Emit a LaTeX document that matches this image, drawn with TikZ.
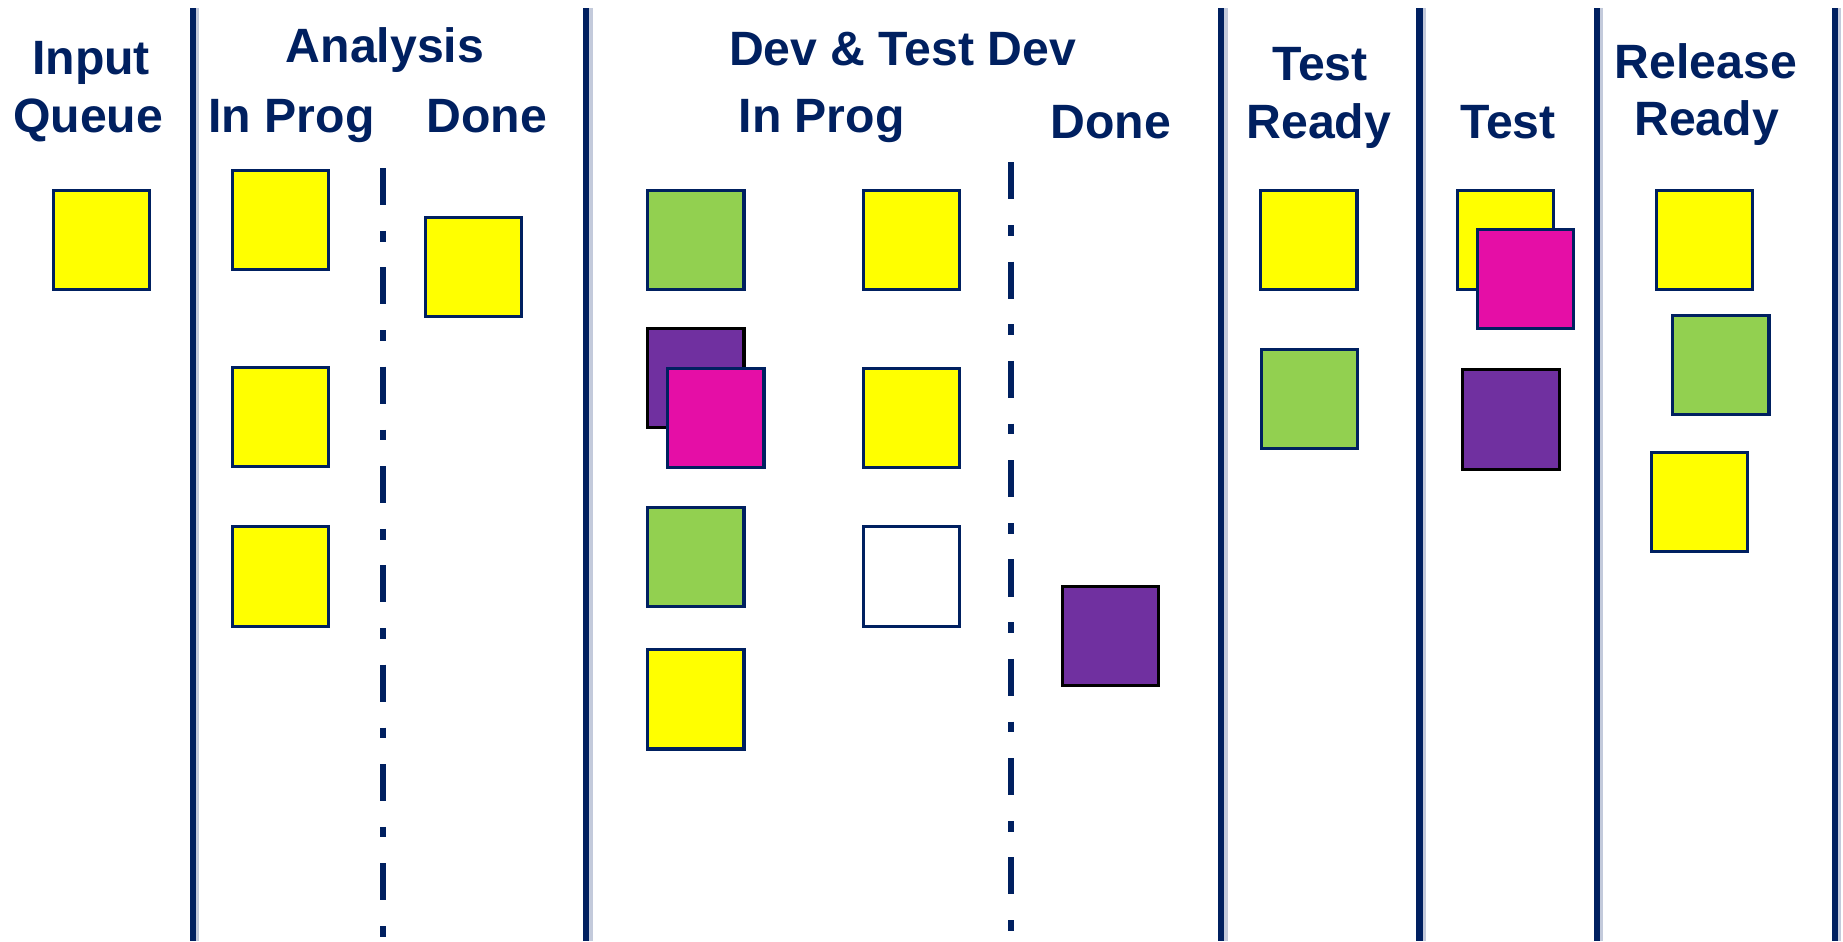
\documentclass[tikz,border=0pt]{standalone}
\usepackage{fontspec}
\setmainfont{Liberation Sans}
\definecolor{navy}{HTML}{002060}
\definecolor{fringe}{HTML}{C3CADB}
\definecolor{cyel}{HTML}{FFFF00}
\definecolor{cgrn}{HTML}{92D050}
\definecolor{cpnk}{HTML}{E50EA6}
\definecolor{cpur}{HTML}{7030A0}
\tikzset{
  hdr/.style={font=\bfseries\fontsize{41}{49}\selectfont, text=navy, inner sep=0pt, anchor=base},
  card/.style={draw=navy, line width=2.6pt, minimum width=82pt, minimum height=84.5pt, inner sep=0pt},
  ycard/.style={card, fill=cyel},
  gcard/.style={card, fill=cgrn},
  pcard/.style={card, fill=cpnk},
  ucard/.style={card, fill=cpur, draw=black},
  wcard/.style={card, fill=white},
  colline/.style={draw=navy, line width=5.5pt},
  colfringe/.style={draw=fringe, line width=3pt},
  subline/.style={draw=navy, line width=5.5pt, dash pattern=on 31.5pt off 22pt on 9pt off 22pt}
}
\begin{document}
\begin{tikzpicture}[x=1pt,y=-1pt]
\useasboundingbox[fill=white] (0,0) rectangle (1568,801);

% column separators
\foreach \n/\x in {a/164,b/498.5,c/1039,d/1207.5,e/1358.5,f/1561}{
  \coordinate (top\n) at (\x,7);
  \coordinate (bot\n) at (\x,801);
  \coordinate (ftop\n) at (\x+4.2,7);
  \coordinate (fbot\n) at (\x+4.2,801);
  \draw[colfringe] (ftop\n) -- (fbot\n);
  \draw[colline] (top\n) -- (bot\n);
}

% sub-column dash-dot separators
\coordinate (ana1) at (326,143);
\coordinate (ana2) at (326,801);
\coordinate (dev1) at (860,138);
\coordinate (dev2) at (860,801);
\draw[subline] (ana1) -- (ana2);
\draw[subline] (dev1) -- (dev2);

% headers
\node[hdr] (hInput) at (77.5,63) {Input};
\node[hdr] (hQueue) at (75,112.6) {Queue};
\node[hdr] (hAnalysis) at (327.5,53.3) {Analysis};
\node[hdr] (hAInProg) at (248,112.6) {In Prog};
\node[hdr] (hADone) at (414,112.6) {Done};
\node[hdr] (hDev) at (768,55.3) {Dev \& Test Dev};
\node[hdr] (hDInProg) at (699,112.6) {In Prog};
\node[hdr] (hDDone) at (945,117.7) {Done};
\node[hdr] (hTRTest) at (1123,68.6) {Test};
\node[hdr] (hTRReady) at (1122,117.7) {Ready};
\node[hdr] (hTest) at (1283,117.7) {Test};
\node[hdr] (hRelease) at (1451.5,66.6) {Release};
\node[hdr] (hRReady) at (1452,115.4) {Ready};

% cards
\node[ycard] (in1) at (86.5,204) {};
\node[ycard] (an1) at (238.5,187) {};
\node[ycard] (an2) at (238.5,355) {};
\node[ycard] (an3) at (238.5,490.5) {};
\node[ycard] (ad1) at (403,227) {};
\node[gcard] (d1) at (592,204) {};
\node[ucard] (d2) at (592,321.5) {};
\node[pcard] (d3) at (609,355.5) {};
\node[gcard] (d4) at (592,474) {};
\node[ycard] (d5) at (592,595) {};
\node[ycard] (d6) at (775.5,204) {};
\node[ycard] (d7) at (775.5,355.5) {};
\node[wcard] (d8) at (775.5,490.5) {};
\node[ucard] (dd1) at (945,541) {};
\node[ycard] (tr1) at (1113.5,204) {};
\node[gcard] (tr2) at (1114,339.5) {};
\node[ycard] (t1) at (1281,204) {};
\node[pcard] (t2) at (1298,237.5) {};
\node[ucard] (t3) at (1285.5,357) {};
\node[ycard] (rr1) at (1450,204) {};
\node[gcard] (rr2) at (1464,310.5) {};
\node[ycard] (rr3) at (1446,427) {};
\end{tikzpicture}
\end{document}
